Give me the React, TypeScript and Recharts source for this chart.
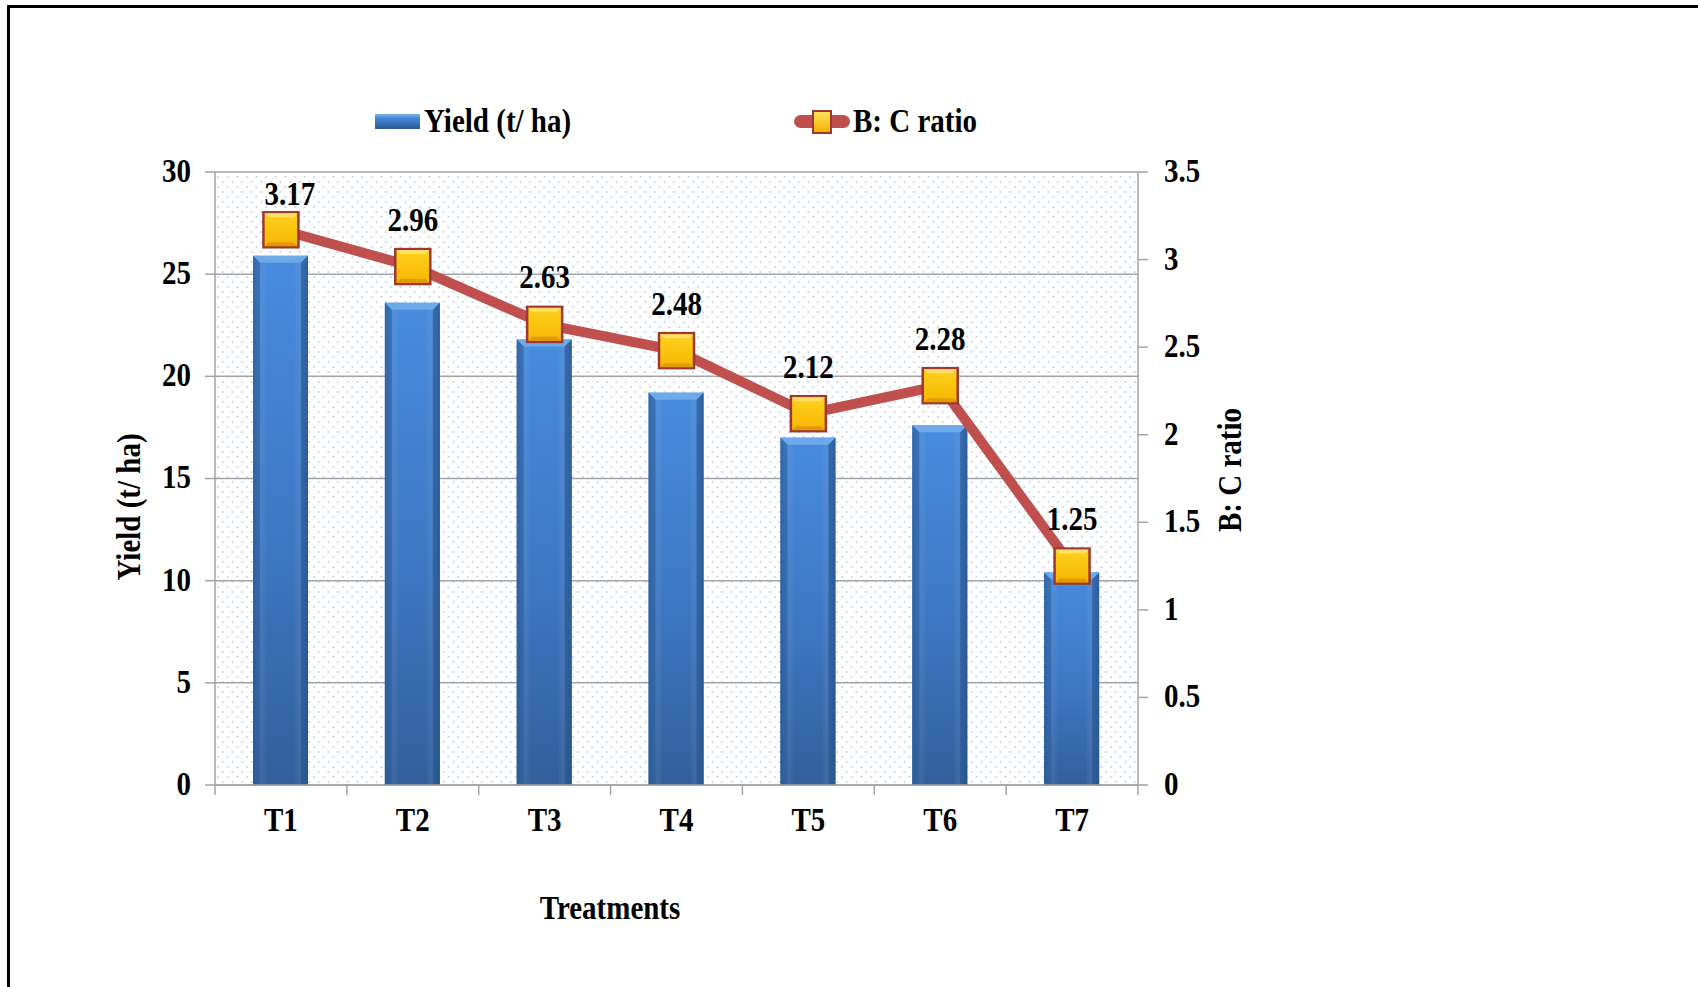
import React from 'react';
import {
  ComposedChart, Bar, Line, XAxis, YAxis, CartesianGrid, Legend, LabelList, Label,
} from 'recharts';

const categories = ['T1', 'T2', 'T3', 'T4', 'T5', 'T6', 'T7'];
const yieldValues = [25.9, 23.6, 21.8, 19.2, 17.0, 17.6, 10.4];
const bcRatio = [3.17, 2.96, 2.63, 2.48, 2.12, 2.28, 1.25];
const leftTicks = [0, 5, 10, 15, 20, 25, 30];
const rightTicks = [0, 0.5, 1, 1.5, 2, 2.5, 3, 3.5];

const data = categories.map((name, i) => ({ name, yield: yieldValues[i], bc: bcRatio[i] }));

const FONT = '"Liberation Serif", "Times New Roman", serif';
const GRAY = '#a3a3a3';
const STRETCH = 1.18;

function SText({ x, y, anchor = 'middle', rotate = 0, size = 29, children }: any) {
  return (
    <text
      transform={`translate(${x},${y}) rotate(${rotate}) scale(1,${STRETCH})`}
      x={0}
      y={0}
      dy="0.35em"
      textAnchor={anchor}
      fontFamily={FONT}
      fontWeight="bold"
      fontSize={size}
      fill="#000"
    >
      {children}
    </text>
  );
}

const BarShape = (p: any) => {
  const { x, y, width: w, height: h } = p;
  if (!h || h <= 0) return <g />;
  const b = Math.min(7, h / 2);
  return (
    <g>
      <rect x={x} y={y} width={w} height={h} fill="url(#barGrad)" />
      <rect x={x} y={y} width={w} height={h} fill="url(#barSide)" />
      <polygon
        points={`${x},${y} ${x + w},${y} ${x + w - b},${y + b} ${x + b},${y + b}`}
        fill="#6eaaea"
      />
      <polygon points={`${x},${y} ${x + b},${y + b} ${x + b},${y + h} ${x},${y + h}`} fill="#2a5c9c" opacity={0.55} />
      <polygon points={`${x + w},${y} ${x + w - b},${y + b} ${x + w - b},${y + h} ${x + w},${y + h}`} fill="#25538e" opacity={0.6} />
    </g>
  );
};

const Marker = (p: any) => {
  const { cx, cy } = p;
  if (cx == null || cy == null) return <g />;
  const s = 17.5;
  const b = 5;
  return (
    <g>
      <rect x={cx - s} y={cy - s} width={2 * s} height={2 * s} fill="url(#sqGrad)" stroke="#9c3732" strokeWidth={2.5} />
      <polygon
        points={`${cx - s + 1},${cy - s + 1} ${cx + s - 1},${cy - s + 1} ${cx + s - b},${cy - s + b} ${cx - s + b},${cy - s + b}`}
        fill="#ffe066"
      />
      <polygon
        points={`${cx - s + 1},${cy + s - 1} ${cx + s - 1},${cy + s - 1} ${cx + s - b},${cy + s - b} ${cx - s + b},${cy + s - b}`}
        fill="#e39a00"
      />
    </g>
  );
};

const LegendContent = () => (
  <div style={{ position: 'relative', width: 1698, height: 40, fontFamily: FONT, fontWeight: 'bold', fontSize: 29 }}>
    <div
      style={{
        position: 'absolute', left: 375, top: 14, width: 45, height: 15,
        background: 'linear-gradient(#7ab4ef 0%, #4286d8 30%, #2b5a98 100%)',
      }}
    />
    <span style={{ position: 'absolute', left: 424, top: 4, display: 'inline-block', transform: `scaleY(${STRETCH})`, whiteSpace: 'nowrap' }}>
      Yield (t/ ha)
    </span>
    <div style={{ position: 'absolute', left: 794, top: 15, width: 56, height: 13, borderRadius: 7, background: '#c0504d' }} />
    <div
      style={{
        position: 'absolute', left: 812, top: 10, width: 16, height: 20,
        background: 'linear-gradient(#ffe35a, #f5b000)', border: '2px solid #9c3732',
      }}
    />
    <span style={{ position: 'absolute', left: 853, top: 4, display: 'inline-block', transform: `scaleY(${STRETCH})`, whiteSpace: 'nowrap' }}>
      B: C ratio
    </span>
  </div>
);

const XTick = (p: any) => {
  const off = p.payload && p.payload.offset != null ? p.payload.offset : 0;
  const isLast = p.index === categories.length - 1;
  return (
    <g>
      <line x1={p.x - off} x2={p.x - off} y1={p.y} y2={p.y + 10} stroke={GRAY} strokeWidth={1.5} />
      {isLast && <line x1={p.x + off} x2={p.x + off} y1={p.y} y2={p.y + 10} stroke={GRAY} strokeWidth={1.5} />}
      <SText x={p.x} y={p.y + 34}>{p.payload.value}</SText>
    </g>
  );
};

export default function App() {
  return (
    <div style={{ position: 'absolute', left: 0, top: 0, width: 1698, height: 987, overflow: 'hidden', background: '#fff' }}>
      <div
        style={{
          position: 'absolute', left: 7, top: 5, width: 3000, height: 3000,
          borderLeft: '3px solid #000', borderTop: '3px solid #000',
        }}
      />
      <div style={{ position: 'absolute', left: 0, top: 0 }}>
        <ComposedChart
          width={1698}
          height={987}
          data={data}
          margin={{ top: 172, right: 500, bottom: 162, left: 155 }}
          barSize={55}
        >
          <defs>
            <pattern id="dots" width="9.6" height="10" patternUnits="userSpaceOnUse">
              <rect width="9.6" height="10" fill="#ffffff" />
              <circle cx="2" cy="2" r="0.65" fill="#6d9bdc" />
              <circle cx="6.8" cy="7" r="0.65" fill="#6d9bdc" />
            </pattern>
            <linearGradient id="barGrad" x1="0" y1="0" x2="0" y2="1">
              <stop offset="0%" stopColor="#4388dc" />
              <stop offset="55%" stopColor="#3773c2" />
              <stop offset="100%" stopColor="#2b5a98" />
            </linearGradient>
            <linearGradient id="barSide" x1="0" y1="0" x2="1" y2="0">
              <stop offset="0%" stopColor="#1f4a80" stopOpacity={0.35} />
              <stop offset="25%" stopColor="#ffffff" stopOpacity={0.03} />
              <stop offset="75%" stopColor="#ffffff" stopOpacity={0.03} />
              <stop offset="100%" stopColor="#1f4a80" stopOpacity={0.35} />
            </linearGradient>
            <linearGradient id="sqGrad" x1="0" y1="0" x2="0" y2="1">
              <stop offset="0%" stopColor="#ffd21f" />
              <stop offset="100%" stopColor="#f7b500" />
            </linearGradient>
          </defs>
          <CartesianGrid
            yAxisId="left"
            vertical={false}
            stroke={GRAY}
            strokeWidth={1.5}
            fill="url(#dots)"
            fillOpacity={1}
          />
          <XAxis
            dataKey="name"
            tickLine={false}
            tickSize={0}
            tickMargin={0}
            height={40}
            axisLine={{ stroke: GRAY, strokeWidth: 1.5 }}
            tick={(p: any) => <XTick {...p} />}
            interval={0}
          >
            <Label content={() => <SText x={610} y={907}>Treatments</SText>} />
          </XAxis>
          <YAxis
            yAxisId="left"
            width={60}
            domain={[0, 30]}
            ticks={leftTicks}
            interval={0}
            tickSize={10}
            tickMargin={14}
            axisLine={{ stroke: GRAY, strokeWidth: 1.5 }}
            tickLine={{ stroke: GRAY, strokeWidth: 1.5 }}
            tick={(p: any) => <SText x={p.x} y={p.y - 2} anchor="end">{p.payload.value}</SText>}
          >
            <Label content={() => <SText x={128} y={507} rotate={-90}>Yield (t/ ha)</SText>} />
          </YAxis>
          <YAxis
            yAxisId="right"
            orientation="right"
            width={60}
            domain={[0, 3.5]}
            ticks={rightTicks}
            interval={0}
            tickSize={10}
            tickMargin={16}
            axisLine={{ stroke: GRAY, strokeWidth: 1.5 }}
            tickLine={{ stroke: GRAY, strokeWidth: 1.5 }}
            tick={(p: any) => <SText x={p.x} y={p.y - 2} anchor="start">{p.payload.value}</SText>}
          >
            <Label content={() => <SText x={1229} y={470} rotate={-90}>B: C ratio</SText>} />
          </YAxis>
          <Legend
            verticalAlign="middle"
            align="center"
            layout="horizontal"
            wrapperStyle={{ top: 100, left: 0, width: 1698 }}
            content={() => <LegendContent />}
          />
          <Bar yAxisId="left" dataKey="yield" name="Yield (t/ ha)" shape={(p: any) => <BarShape {...p} />} isAnimationActive={false} />
          <Line
            yAxisId="right"
            dataKey="bc"
            name="B: C ratio"
            type="linear"
            stroke="#c0504d"
            strokeWidth={10}
            dot={(p: any) => <Marker key={`m${p.index}`} {...p} />}
            activeDot={false}
            isAnimationActive={false}
          >
            <LabelList
              dataKey="bc"
              content={(p: any) => {
                const first = p.index === 0;
                return <SText x={p.x + (first ? 9 : 0)} y={p.y - (first ? 37 : 48)}>{p.value}</SText>;
              }}
            />
          </Line>
        </ComposedChart>
      </div>
    </div>
  );
}
